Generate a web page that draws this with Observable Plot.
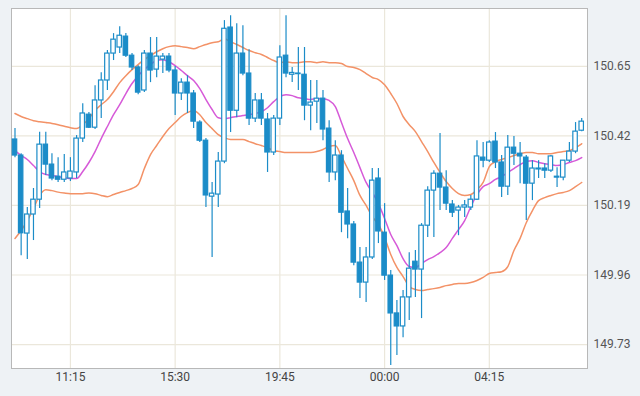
<!DOCTYPE html>
<html>
<head>
<meta charset="utf-8">
<script src="https://cdn.jsdelivr.net/npm/d3@7"></script>
<script src="https://cdn.jsdelivr.net/npm/@observablehq/plot@0.6"></script>
<style>
  html, body { margin: 0; padding: 0; background: #eef2f5; }
  #chart { width: 640px; height: 396px; }
</style>
</head>
<body>
<div id="chart"></div>
<script>
// 15-minute candles, 09:00 -> 08:00 next day
const startTime = "2023-10-30T09:00:00Z";
const intervalMinutes = 15;
const xTickLabels = ["11:15", "15:30", "19:45", "00:00", "04:15"];
const yTickValues = [149.73, 149.96, 150.19, 150.42, 150.65];

const opens = [150.408,150.355,150.097,150.160,150.209,150.391,150.325,150.285,150.275,150.279,150.299,150.411,150.490,150.447,150.537,150.603,150.692,150.712,150.748,150.685,150.646,150.570,150.692,150.639,150.672,150.682,150.636,150.560,150.596,150.560,150.464,150.404,150.219,150.226,150.335,150.778,150.503,150.692,150.626,150.477,150.537,150.474,150.365,150.477,150.685,150.622,150.626,150.622,150.520,150.533,150.543,150.444,150.299,150.355,150.170,150.127,150.001,149.935,150.018,150.279,150.100,149.958,149.833,149.790,149.886,150.004,149.978,150.123,150.239,150.295,150.249,150.193,150.173,150.183,150.183,150.209,150.348,150.338,150.401,150.332,150.252,150.381,150.361,150.348,150.262,150.309,150.312,150.305,150.285,150.282,150.338,150.368,150.437];
const highs = [150.444,150.361,150.183,150.246,150.432,150.432,150.361,150.348,150.358,150.348,150.421,150.526,150.497,150.586,150.629,150.702,150.758,150.781,150.758,150.692,150.652,150.702,150.745,150.745,150.692,150.692,150.649,150.609,150.619,150.570,150.470,150.411,150.266,150.365,150.801,150.817,150.791,150.784,150.705,150.560,150.560,150.494,150.487,150.718,150.817,150.646,150.712,150.712,150.603,150.603,150.570,150.470,150.404,150.371,150.246,150.137,150.051,150.051,150.312,150.312,150.196,149.975,149.876,149.909,150.034,150.041,150.130,150.252,150.305,150.428,150.305,150.206,150.190,150.206,150.223,150.404,150.398,150.404,150.431,150.355,150.421,150.418,150.398,150.355,150.338,150.338,150.328,150.355,150.315,150.338,150.398,150.464,150.477];
const lows = [150.348,150.024,150.011,150.074,150.180,150.289,150.272,150.266,150.266,150.269,150.279,150.398,150.444,150.441,150.477,150.570,150.669,150.692,150.679,150.636,150.556,150.563,150.596,150.612,150.626,150.629,150.487,150.537,150.494,150.444,150.398,150.183,150.018,150.183,150.328,150.431,150.480,150.619,150.454,150.464,150.454,150.299,150.355,150.454,150.612,150.596,150.570,150.470,150.437,150.461,150.404,150.266,150.272,150.100,150.080,149.991,149.882,149.869,150.011,150.064,149.942,149.661,149.694,149.753,149.810,149.886,149.816,150.084,150.084,150.173,150.173,150.150,150.090,150.150,150.173,150.206,150.315,150.332,150.312,150.216,150.223,150.322,150.262,150.140,150.206,150.279,150.279,150.299,150.249,150.272,150.332,150.361,150.434];
const closes = [150.355,150.098,150.160,150.209,150.391,150.325,150.279,150.275,150.299,150.302,150.411,150.494,150.447,150.537,150.603,150.692,150.738,150.751,150.685,150.646,150.563,150.692,150.636,150.682,150.682,150.636,150.560,150.596,150.560,150.467,150.404,150.223,150.229,150.335,150.774,150.503,150.692,150.626,150.477,150.537,150.477,150.365,150.477,150.679,150.626,150.628,150.624,150.520,150.530,150.543,150.441,150.299,150.355,150.166,150.127,150.001,149.935,150.018,150.272,150.104,149.958,149.833,149.790,149.886,149.981,149.978,150.123,150.239,150.295,150.249,150.196,150.166,150.183,150.190,150.209,150.352,150.338,150.398,150.332,150.252,150.381,150.361,150.352,150.262,150.312,150.312,150.305,150.352,150.282,150.338,150.368,150.434,150.467];

// Bollinger bands
const upperBand = [150.494,150.484,150.477,150.470,150.467,150.464,150.461,150.457,150.452,150.447,150.444,150.457,150.477,150.504,150.523,150.540,150.566,150.596,150.619,150.639,150.656,150.672,150.685,150.698,150.708,150.715,150.718,150.715,150.712,150.708,150.715,150.722,150.728,150.731,150.741,150.731,150.722,150.712,150.702,150.695,150.689,150.679,150.669,150.662,150.665,150.662,150.662,150.665,150.665,150.662,150.665,150.662,150.662,150.659,150.649,150.646,150.639,150.626,150.613,150.606,150.589,150.560,150.527,150.484,150.457,150.434,150.401,150.368,150.332,150.299,150.269,150.246,150.229,150.223,150.226,150.242,150.266,150.318,150.335,150.342,150.348,150.355,150.361,150.365,150.365,150.361,150.361,150.361,150.365,150.368,150.371,150.381,150.394];
const middleBand = [150.371,150.355,150.342,150.322,150.302,150.292,150.289,150.285,150.282,150.279,150.279,150.302,150.332,150.368,150.411,150.451,150.490,150.523,150.560,150.593,150.619,150.639,150.656,150.669,150.672,150.665,150.652,150.636,150.619,150.603,150.576,150.540,150.507,150.480,150.477,150.480,150.484,150.487,150.490,150.494,150.500,150.513,150.533,150.550,150.556,150.553,150.546,150.543,150.540,150.543,150.543,150.537,150.517,150.464,150.411,150.365,150.315,150.266,150.233,150.196,150.147,150.094,150.057,150.014,149.988,149.985,149.998,150.011,150.021,150.034,150.051,150.081,150.110,150.140,150.186,150.226,150.252,150.262,150.276,150.285,150.299,150.312,150.325,150.335,150.338,150.332,150.328,150.325,150.322,150.325,150.332,150.338,150.348];
const lowerBand = [150.081,150.107,150.140,150.180,150.223,150.242,150.239,150.234,150.231,150.229,150.229,150.229,150.231,150.229,150.223,150.219,150.226,150.233,150.239,150.246,150.259,150.312,150.358,150.388,150.418,150.444,150.464,150.484,150.497,150.504,150.490,150.464,150.444,150.424,150.414,150.408,150.408,150.408,150.401,150.394,150.388,150.381,150.371,150.368,150.365,150.365,150.365,150.365,150.365,150.368,150.375,150.385,150.388,150.352,150.312,150.272,150.223,150.190,150.153,150.127,150.084,150.028,149.985,149.955,149.922,149.912,149.909,149.912,149.915,149.919,149.925,149.929,149.932,149.932,149.935,149.942,149.952,149.965,149.968,149.971,149.988,150.041,150.081,150.133,150.173,150.206,150.216,150.223,150.229,150.233,150.239,150.252,150.266];

const MIN = 60000;
const t0 = new Date(startTime).getTime();
const rows = opens.map((o, i) => ({
  t: new Date(t0 + i * intervalMinutes * MIN),
  open: o, high: highs[i], low: lows[i], close: closes[i],
  upper: upperBand[i], middle: middleBand[i], lower: lowerBand[i]
}));

const fmt = d3.utcFormat("%H:%M");
const xTicks = rows.map(d => d.t).filter(t => xTickLabels.includes(fmt(t)));

const blue = "#1b8cc8";
const orange = "#f39267";
const magenta = "#d65ad8";
const grid = "#ebe7db";
const half = 5.4 * MIN;

const chart = Plot.plot({
  width: 640,
  height: 396,
  marginLeft: 11,
  marginRight: 53,
  marginTop: 8,
  marginBottom: 28,
  style: { background: "#eef2f5", fontFamily: "Roboto, sans-serif", fontSize: "12px", color: "#4a4a4a" },
  x: {
    type: "utc",
    domain: [new Date(t0 - 8.5 * MIN), new Date(t0 + 92.94 * 15 * MIN)],
    ticks: xTicks,
    tickFormat: fmt,
    tickSize: 0,
    tickPadding: 4,
    label: null
  },
  y: {
    domain: [149.651, 150.841],
    ticks: yTickValues,
    tickFormat: d3.format(".2f"),
    label: null
  },
  marks: [
    Plot.frame({ fill: "white", stroke: null }),
    Plot.gridX(xTicks, { stroke: grid, strokeOpacity: 1, strokeWidth: 1.2 }),
    Plot.gridY(yTickValues, { stroke: grid, strokeOpacity: 1, strokeWidth: 1.2 }),
    Plot.frame({ stroke: "#b8b8b8" }),
    Plot.line(rows, { x: "t", y: "upper", stroke: orange, strokeWidth: 1.5, curve: "monotone-x" }),
    Plot.line(rows, { x: "t", y: "lower", stroke: orange, strokeWidth: 1.5, curve: "monotone-x" }),
    Plot.line(rows, { x: "t", y: "middle", stroke: magenta, strokeWidth: 1.5, curve: "monotone-x" }),
    Plot.ruleX(rows, { x: "t", y1: "low", y2: "high", stroke: blue, strokeWidth: 1.2 }),
    Plot.rect(rows, {
      x1: d => new Date(+d.t - half),
      x2: d => new Date(+d.t + half),
      y1: d => Math.min(d.open, d.close),
      y2: d => Math.max(d.open, d.close),
      fill: d => d.close >= d.open ? "white" : blue,
      stroke: blue,
      strokeWidth: 1.2
    }),
    Plot.axisX({ ticks: xTicks, tickFormat: fmt, tickSize: 0, tickPadding: 4, fill: "#444" }),
    Plot.axisY({ anchor: "right", ticks: yTickValues, tickFormat: d3.format(".2f"), tickSize: 0, tickPadding: 6, fill: "#555" })
  ]
});
document.getElementById("chart").appendChild(chart);
</script>
</body>
</html>
